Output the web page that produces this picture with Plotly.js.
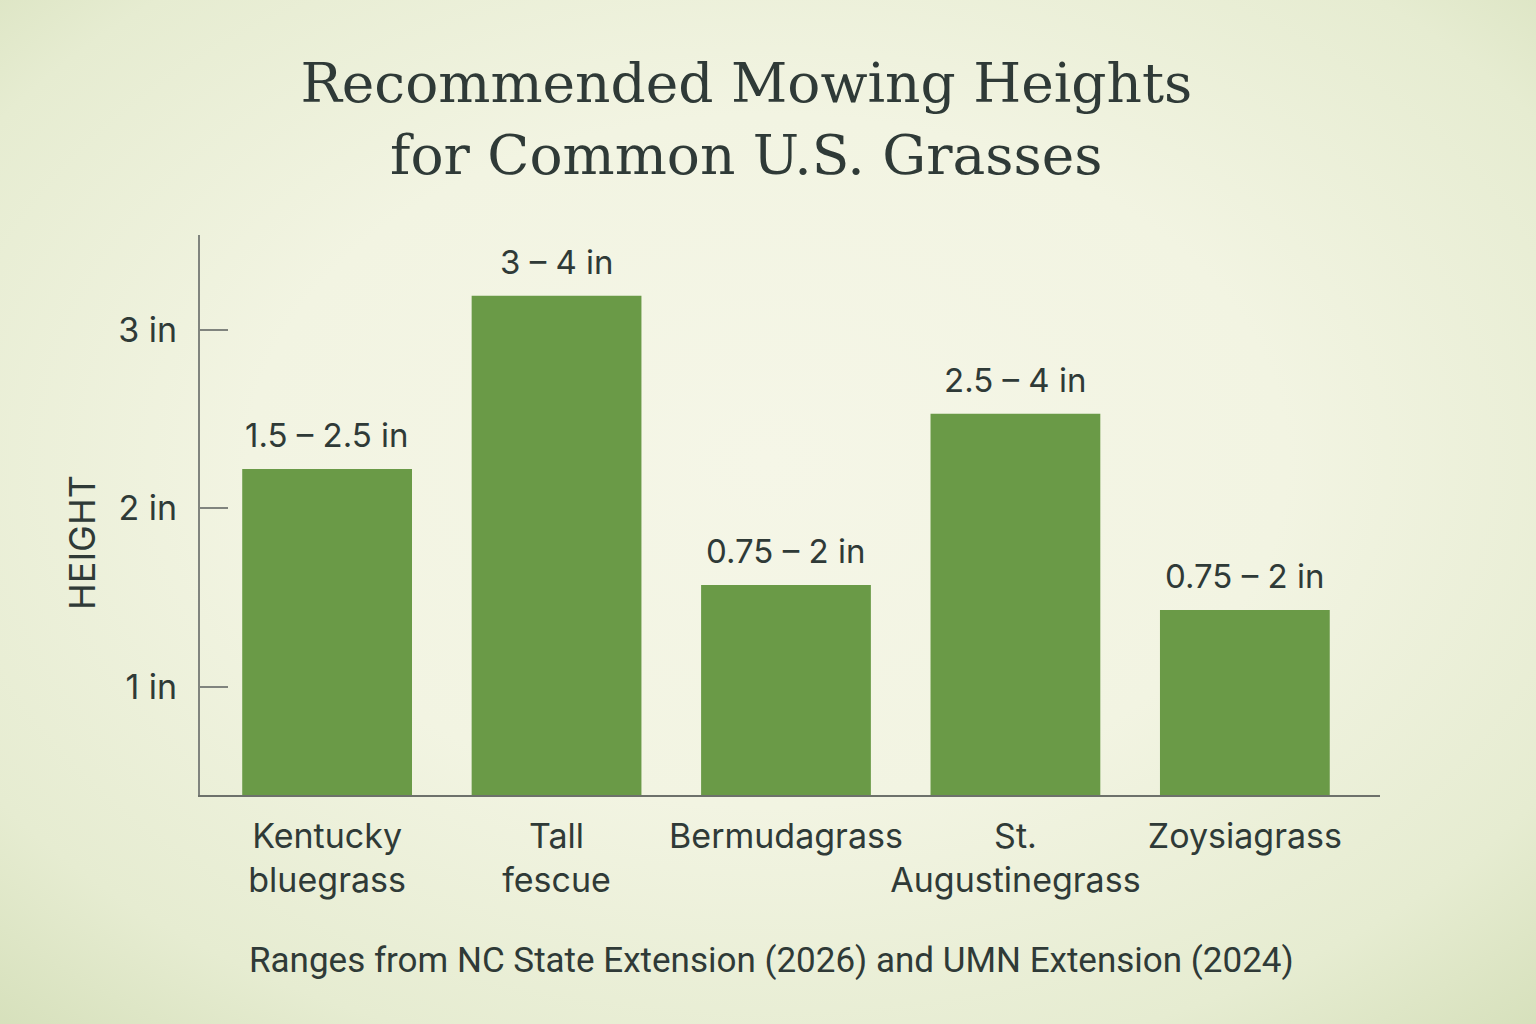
<!DOCTYPE html>
<html>
<head>
<meta charset="utf-8">
<script src="https://cdn.plot.ly/plotly-3.0.1.min.js"></script>
<style>
  html, body { margin:0; padding:0; width:1536px; height:1024px; overflow:hidden;
    background: radial-gradient(ellipse 75% 75% at 50% 45%, #f5f6e7 0%, #f2f4e2 45%, #e6ecd1 80%, #d6e0bb 100%); }
  #chart { width:1536px; height:1024px; }
</style>
</head>
<body>
<div id="chart"></div>
<script>
const categories = ["Kentucky<br>bluegrass", "Tall<br>fescue", "Bermudagrass", "St.<br>Augustinegrass", "Zoysiagrass"];
const barHeights = [2.22, 3.19, 1.57, 2.53, 1.43];
const rangeLabels = ["1.5 – 2.5 in", "3 – 4 in", "0.75 – 2 in", "2.5 – 4 in", "0.75 – 2 in"];
const yTickVals = [1, 2, 3];
const yTickText = ["1 in", "2 in", "3 in"];
const yAxisLabel = "HEIGHT";

const textColor = "#2f3a37";
const sans = "Inter, 'Open Sans', sans-serif";
const xIdx = categories.map((c, i) => i);

const trace = {
  type: "bar",
  x: xIdx,
  y: barHeights,
  marker: {color: "#6a9a47", line: {width: 0}},
  hoverinfo: "skip"
};

const barAnnotations = rangeLabels.map((t, i) => ({
  text: t, x: xIdx[i], y: barHeights[i], xref: "x", yref: "y",
  xanchor: "center", yanchor: "bottom", yshift: 12, showarrow: false,
  font: {family: sans, size: 33, color: textColor}
}));

const layout = {
  width: 1536, height: 1024,
  paper_bgcolor: "rgba(0,0,0,0)",
  plot_bgcolor: "rgba(0,0,0,0)",
  margin: {l: 200, r: 156, t: 235, b: 229},
  bargap: 0.26,
  showlegend: false,
  title: {
    text: "Recommended Mowing Heights<br>for Common U.S. Grasses",
    font: {family: "'DejaVu Serif', serif", size: 55, color: textColor},
    x: 0.463, xanchor: "center", y: 0.9, yanchor: "middle", xref: "paper"
  },
  xaxis: {
    range: [-0.554, 4.589],
    tickvals: xIdx,
    ticktext: categories,
    tickangle: 0,
    showline: true, linecolor: "#6d716b", linewidth: 2,
    ticks: "", showgrid: false, zeroline: false,
    ticklabelstandoff: 10,
    tickfont: {family: sans, size: 34, color: textColor},
    fixedrange: true
  },
  yaxis: {
    range: [0.395, 3.53],
    tickvals: yTickVals,
    ticktext: yTickText,
    showline: true, linecolor: "#80847e", linewidth: 2,
    ticks: "inside", ticklen: 28, tickwidth: 2, tickcolor: "#80847e",
    ticklabelstandoff: 14,
    showgrid: false, zeroline: false,
    tickfont: {family: sans, size: 34, color: textColor},
    fixedrange: true
  },
  annotations: barAnnotations.concat([
    {
      text: yAxisLabel, textangle: -90,
      xref: "paper", yref: "paper", x: -0.100, y: 0.45,
      xanchor: "center", yanchor: "middle", showarrow: false,
      font: {family: sans, size: 36, color: textColor}
    },
    {
      text: "Ranges from NC State Extension (2026) and UMN Extension (2024)",
      xref: "paper", yref: "paper", x: 0.484, y: -0.295,
      xanchor: "center", yanchor: "middle", showarrow: false,
      font: {family: "'Roboto', sans-serif", size: 35, color: textColor}
    }
  ])
};

Plotly.newPlot("chart", [trace], layout, {staticPlot: true});
</script>
</body>
</html>
